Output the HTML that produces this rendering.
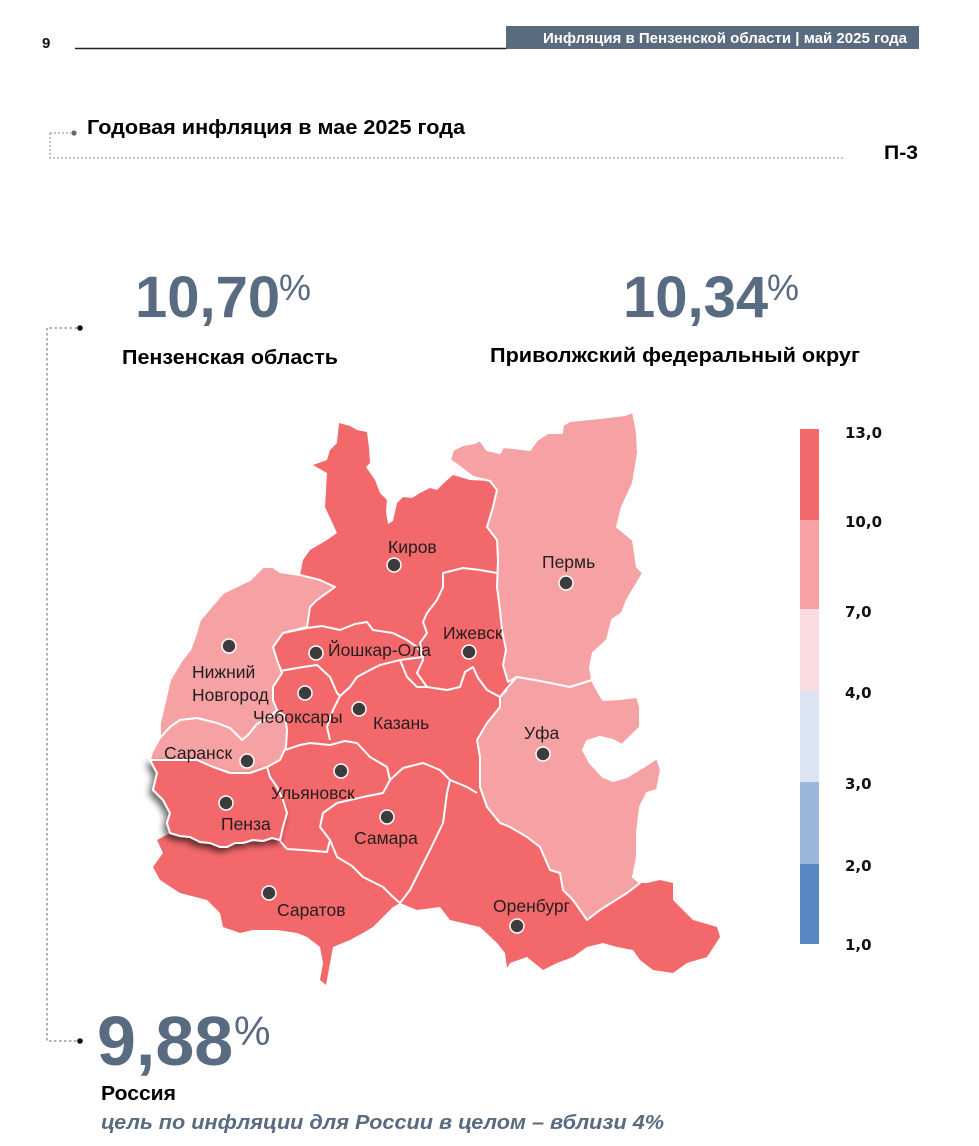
<!DOCTYPE html>
<html><head><meta charset="utf-8">
<style>
html,body{margin:0;padding:0;background:#fff;}
svg{display:block;}
text{font-family:"Liberation Sans",Arial,sans-serif;}
</style></head>
<body>
<svg width="979" height="1146" viewBox="0 0 979 1146" xmlns="http://www.w3.org/2000/svg">
<defs>
<filter id="sh" x="-20%" y="-20%" width="140%" height="150%">
<feGaussianBlur in="SourceAlpha" stdDeviation="3.5"/>
<feOffset dx="-3" dy="4" result="o"/>
<feComponentTransfer><feFuncA type="linear" slope="0.6"/></feComponentTransfer>
<feMerge><feMergeNode/><feMergeNode in="SourceGraphic"/></feMerge>
</filter>
</defs>
<rect width="979" height="1146" fill="#fff"/>

<!-- header -->
<text x="42" y="48" font-size="15" font-weight="bold" fill="#111">9</text>
<line x1="75" y1="48.5" x2="507" y2="48.5" stroke="#222" stroke-width="1.5"/>
<rect x="506" y="26" width="413" height="23" fill="#5b6b7f"/>
<text x="543" y="43" font-size="14.5" font-weight="bold" fill="#fff" textLength="364" lengthAdjust="spacingAndGlyphs">Инфляция в Пензенской области | май 2025 года</text>

<!-- title -->
<path d="M50 133 H71 M50 133 V158 H843" stroke="#8a8a8a" stroke-width="1" stroke-dasharray="2,2" fill="none"/>
<circle cx="74" cy="133" r="2.6" fill="#5b6b7f"/>
<text x="87" y="134" font-size="20.5" font-weight="bold" fill="#000" textLength="378" lengthAdjust="spacingAndGlyphs">Годовая инфляция в мае 2025 года</text>
<text x="884" y="159" font-size="19.5" font-weight="bold" fill="#000" textLength="34" lengthAdjust="spacingAndGlyphs">П-3</text>

<!-- left connector -->
<path d="M77 328 H47 V1041 H77" stroke="#666" stroke-width="1" stroke-dasharray="2.5,2.5" fill="none"/>
<circle cx="80" cy="328" r="2.8" fill="#111"/>
<circle cx="80" cy="1041" r="2.8" fill="#111"/>

<!-- big numbers -->
<text x="135" y="317" font-size="58" font-weight="bold" fill="#596b80">10,70</text>
<text x="279" y="300" font-size="36" fill="#596b80">%</text>
<text x="122" y="364" font-size="20.5" font-weight="bold" fill="#000" textLength="216" lengthAdjust="spacingAndGlyphs">Пензенская область</text>

<text x="623" y="317" font-size="58" font-weight="bold" fill="#596b80">10,34</text>
<text x="767" y="300" font-size="36" fill="#596b80">%</text>
<text x="490" y="362" font-size="20.5" font-weight="bold" fill="#000" textLength="370" lengthAdjust="spacingAndGlyphs">Приволжский федеральный округ</text>

<text x="97" y="1065" font-size="70" font-weight="bold" fill="#596b80">9,88</text>
<text x="234" y="1045" font-size="41" fill="#596b80">%</text>
<text x="101" y="1100" font-size="20.5" font-weight="bold" fill="#000" textLength="75" lengthAdjust="spacingAndGlyphs">Россия</text>
<text x="101" y="1129" font-size="20.5" font-weight="bold" font-style="italic" fill="#596b80" textLength="563" lengthAdjust="spacingAndGlyphs">цель по инфляции для России в целом – вблизи 4%</text>

<!-- legend -->
<rect x="800" y="429" width="19" height="91" fill="#f3686b"/>
<rect x="800" y="520" width="19" height="89" fill="#f6a1a4"/>
<rect x="800" y="609" width="19" height="82" fill="#fbdde0"/>
<rect x="800" y="691" width="19" height="91" fill="#dbe4f3"/>
<rect x="800" y="782" width="19" height="82" fill="#9bb6da"/>
<rect x="800" y="864" width="19" height="80" fill="#5987c3"/>
<g font-size="15" font-weight="bold" fill="#111">
<text x="845" y="438" style="font-family:'DejaVu Sans',sans-serif">13,0</text>
<text x="845" y="527" style="font-family:'DejaVu Sans',sans-serif">10,0</text>
<text x="845" y="617" style="font-family:'DejaVu Sans',sans-serif">7,0</text>
<text x="845" y="698" style="font-family:'DejaVu Sans',sans-serif">4,0</text>
<text x="845" y="789" style="font-family:'DejaVu Sans',sans-serif">3,0</text>
<text x="845" y="871" style="font-family:'DejaVu Sans',sans-serif">2,0</text>
<text x="845" y="950" style="font-family:'DejaVu Sans',sans-serif">1,0</text>
</g>

<!-- map base -->
<polygon fill="#f3686b" points="339,423 350,426 357,430 367,432 369,448 370,463 366,467 375,480 380,493 387,500 386,512 388,524 393,521 397,503 403,497 412,498 420,493 430,488 437,490 445,482 453,475 470,480 490,481 473,477 460,467 450,460 453,450 463,445 475,443 480,440 487,450 500,453 503,447 530,450 537,440 548,433 562,433 563,425 570,421 600,418 625,415 633,412 637,433 638,453 633,483 622,507 617,527 633,540 637,567 643,573 627,600 622,613 612,620 607,640 593,653 590,667 592,680 597,690 603,700 620,699 637,697 640,707 640,727 630,737 622,745 613,740 600,737 587,741 583,750 590,763 603,777 613,781 627,777 645,766 657,758 661,770 657,790 647,793 640,807 637,833 637,857 633,877 640,883 647,883 660,880 673,883 673,900 683,910 693,920 717,927 720,937 707,957 687,963 673,973 653,970 640,960 633,950 617,947 603,943 587,947 573,957 557,963 543,970 527,957 510,963 507,968 505,953 497,943 480,927 450,920 440,907 417,910 400,903 393,907 383,917 373,927 363,933 350,940 333,947 330,963 326,985 320,980 323,963 320,947 307,937 297,933 277,930 253,930 240,933 223,927 220,913 207,900 180,893 160,880 153,867 163,853 157,840 170,833 167,823 170,813 163,800 153,790 157,773 150,760 152,752 160,738 160,723 163,710 167,693 170,680 182,660 190,650 195,637 200,620 223,593 250,580 263,567 273,567 280,572 300,575 303,560 310,550 327,540 337,533 325,507 327,473 313,465 327,460 330,450 337,443"/>

<!-- pink regions -->
<g fill="#f6a1a4" stroke="#fff" stroke-width="2" stroke-linejoin="round">
<polygon points="490,481 473,477 460,467 450,460 453,450 463,445 475,443 480,440 487,450 500,453 503,447 530,450 537,440 548,433 562,433 563,425 570,421 600,418 625,415 633,412 637,433 638,453 633,483 622,507 617,527 633,540 637,567 643,573 627,600 622,613 612,620 607,640 593,653 590,667 592,680 570,687 540,681 517,677 508,682 503,665 506,650 502,630 500,610 497,587 498,560 497,540 487,527 493,507 497,490"/>
<polygon points="500,697 507,688 517,677 540,681 570,687 592,680 597,690 603,700 620,699 637,697 640,707 640,727 630,737 622,745 613,740 600,737 587,741 583,750 590,763 603,777 613,781 627,777 645,766 657,758 661,770 657,790 647,793 640,807 637,833 637,857 633,877 640,883 627,893 600,910 587,920 580,910 573,900 563,890 560,873 550,870 540,847 527,837 510,827 500,823 487,807 480,787 480,757 477,740 487,723 500,707"/>
<polygon points="263,567 273,567 280,572 300,575 320,580 335,587 317,600 310,607 307,627 283,633 273,647 277,660 282,673 273,687 273,700 277,710 270,717 257,724 248,735 242,740 230,728 217,723 197,718 180,720 170,727 160,738 160,723 163,710 167,693 170,680 182,660 190,650 195,637 200,620 223,593 250,580"/>
<polygon points="152,752 160,738 170,727 180,720 197,718 217,723 230,728 242,740 248,735 257,724 270,717 277,710 285,716 287,730 286,747 280,760 267,767 250,773 230,773 213,767 197,760 183,760 163,760 150,760"/>
</g>

<!-- interior borders -->
<g fill="none" stroke="#fff" stroke-width="2" stroke-linejoin="round">
<polyline points="497,573 480,570 463,568 443,573 443,587 437,600 427,613 423,622 427,633 420,643 423,660 417,673 427,687"/>
<polyline points="427,687 447,690 460,687 465,672 473,667 478,678 487,690 500,697 507,690"/>
<polyline points="283,633 307,628 322,626 340,630 355,624 367,622 373,630 393,633 407,640 417,647 423,657 400,660"/>
<polyline points="427,687 417,687 407,677 400,660 380,665 370,670 357,677 350,687 340,696"/>
<polyline points="280,671 303,667 317,665 330,677 337,693 340,696 333,710 327,727 330,740"/>
<polyline points="285,750 300,745 310,743 330,745 345,741 357,743 370,757 387,767 390,780"/>
<polyline points="390,780 383,793 363,797 337,803 323,813 320,827 330,840 337,857 352,866 363,877 383,887 392,896 400,903"/>
<polyline points="280,841 287,849 303,850 327,852 330,840"/>
<polyline points="390,780 403,768 423,763 440,770 450,780 467,787 477,793"/>
<polyline points="450,780 447,793 443,823 430,850 420,870 410,890 400,903"/>
</g>

<!-- Penza -->
<polygon filter="url(#sh)" fill="#f3686b" stroke="#fff" stroke-width="2" stroke-linejoin="round" points="150,760 157,773 153,790 163,800 170,813 167,823 170,833 180,836 190,837 200,842 210,843 220,847 227,847 235,843 243,843 253,840 263,841 272,838 280,840 283,827 287,813 283,800 277,787 270,777 267,767 250,773 230,773 213,767 197,760 183,760 163,760"/>

<!-- city dots -->
<g fill="#3c3c3c" stroke="#fff" stroke-width="1.5">
<circle cx="394" cy="565" r="7"/>
<circle cx="566" cy="583" r="7"/>
<circle cx="469" cy="652" r="7"/>
<circle cx="316" cy="653" r="7"/>
<circle cx="229" cy="646" r="7"/>
<circle cx="305" cy="693" r="7"/>
<circle cx="359" cy="709" r="7"/>
<circle cx="543" cy="754" r="7"/>
<circle cx="247" cy="761" r="7"/>
<circle cx="341" cy="771" r="7"/>
<circle cx="226" cy="803" r="7"/>
<circle cx="387" cy="817" r="7"/>
<circle cx="269" cy="893" r="7"/>
<circle cx="517" cy="926" r="7"/>
</g>

<!-- city labels -->
<g font-size="17.5" fill="#231f20">
<text x="388" y="553">Киров</text>
<text x="542" y="568">Пермь</text>
<text x="443" y="639">Ижевск</text>
<text x="328" y="656">Йошкар-Ола</text>
<text x="192" y="678">Нижний</text>
<text x="192" y="701">Новгород</text>
<text x="253" y="723">Чебоксары</text>
<text x="373" y="729">Казань</text>
<text x="524" y="739">Уфа</text>
<text x="164" y="759">Саранск</text>
<text x="271" y="799">Ульяновск</text>
<text x="221" y="830">Пенза</text>
<text x="354" y="844">Самара</text>
<text x="277" y="916">Саратов</text>
<text x="493" y="912">Оренбург</text>
</g>
</svg>
</body></html>
